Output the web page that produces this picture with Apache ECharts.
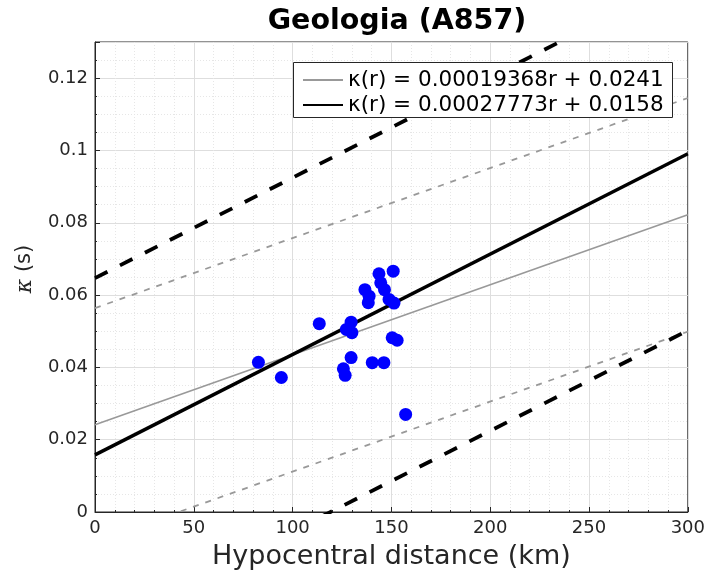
<!DOCTYPE html>
<html><head><meta charset="utf-8">
<script src="https://cdn.jsdelivr.net/npm/echarts@6/dist/echarts.min.js"></script>
<style>html,body{margin:0;padding:0;background:#fff}#c{width:708px;height:575px}</style>
</head><body><div id="c"></div>
<script>
// Observed data: hypocentral distance (km) and kappa (s)
const distKm = [82.7, 94.3, 113.5, 129.6, 127.2, 130.0, 129.6, 125.7, 126.6, 136.6, 138.7, 138.3, 143.7, 150.9, 144.6, 146.5, 148.8, 151.3, 150.4, 152.9, 140.3, 146.2, 157.2];
const kappaS = [0.0414, 0.0372, 0.0521, 0.0525, 0.0505, 0.0496, 0.0427, 0.0396, 0.0378, 0.0615, 0.0597, 0.0579, 0.0659, 0.0666, 0.0634, 0.0615, 0.0588, 0.0578, 0.0482, 0.0475, 0.0413, 0.0413, 0.0270];
// Fit parameters: [gray fit, black fit]
const fitNames = ['κ(r) = 0.00019368r + 0.0241', 'κ(r) = 0.00027773r + 0.0158'];
const fitSlopes = [0.00019368, 0.00027773];
const fitIntercepts = [0.0241, 0.0158];
const fitBands = [0.0323, 0.0489];
const xRange = [0, 300];
const yTicks = ['0', '0.02', '0.04', '0.06', '0.08', '0.1', '0.12'];

const fitColors = ['#999999', '#000000'];
const fitWidths = [1.6, 3.4];
const bandStyles = [{type: [6, 7], width: 1.8}, {type: [14, 14], width: 3.8}];

const pts = distKm.map((d, i) => [d, kappaS[i]]);
const lineAt = (k, off) => xRange.map(x => [x, fitIntercepts[k] + fitSlopes[k] * x + off]);

const series = [];
for (let k = 0; k < 2; k++) {
  ['+', '-'].forEach(s => {
    series.push({
      type: 'line', name: 'band' + k + s, data: lineAt(k, s === '+' ? fitBands[k] : -fitBands[k]),
      symbol: 'none', clip: true, silent: true,
      lineStyle: {color: fitColors[k], width: bandStyles[k].width, type: bandStyles[k].type},
      z: 2
    });
  });
}
for (let k = 0; k < 2; k++) {
  series.push({
    type: 'line', name: fitNames[k], data: lineAt(k, 0), symbol: 'none', clip: true,
    lineStyle: {color: fitColors[k], width: fitWidths[k]}, itemStyle: {color: fitColors[k]}, z: 3
  });
}
series.push({type: 'scatter', name: 'data', data: pts, symbolSize: 13, itemStyle: {color: '#0000ff', opacity: 1}, z: 4});

const minorLine = {show: true, lineStyle: {color: '#e6e6e6', width: 1, type: [1, 2]}};
const labelStyle = {color: '#262626', fontSize: 18, fontFamily: 'DejaVu Sans', margin: 7};
const axisCommon = {
  axisLine: {show: true, onZero: false, lineStyle: {color: '#262626', width: 1}},
  axisTick: {show: true, inside: true, length: 5, lineStyle: {color: '#262626'}},
  splitLine: {show: true, lineStyle: {color: '#dedede'}},
  minorSplitLine: minorLine
};
const legendCommon = {left: 297, itemWidth: 40, itemHeight: 14, itemGap: 4, z: 20, selectedMode: false,
  itemStyle: {opacity: 0, borderWidth: 0},
  textStyle: {fontSize: 21.5, fontFamily: 'DejaVu Sans', color: '#000'}};

const chart = echarts.init(document.getElementById('c'), null, {renderer: 'canvas'});
chart.setOption({
  animation: false,
  backgroundColor: '#ffffff',
  title: {text: 'Geologia (A857)', left: 392, top: 2, textAlign: 'center',
    textStyle: {fontFamily: 'DejaVu Sans', fontWeight: 'bold', fontSize: 28.5, color: '#000'}},
  grid: {left: 95, right: 18, top: 42, bottom: 62, show: true, borderColor: '#262626', borderWidth: 1, backgroundColor: 'transparent'},
  xAxis: Object.assign({}, axisCommon, {
    type: 'value', min: 0, max: 300, interval: 50,
    name: 'Hypocentral distance (km)', nameLocation: 'middle', nameGap: 31,
    nameTextStyle: {color: '#262626', fontFamily: 'DejaVu Sans', fontSize: 27},
    axisLabel: labelStyle,
    minorTick: {show: true, splitNumber: 5, length: 2, lineStyle: {color: '#262626'}}
  }),
  yAxis: Object.assign({}, axisCommon, {
    type: 'value', min: 0, max: 0.13, interval: 0.02,
    name: '{i|κ} (s)', nameLocation: 'middle', nameGap: 59, nameRotate: 90,
    nameTextStyle: {color: '#262626', fontFamily: 'DejaVu Sans', fontSize: 21, padding: [0, 0, 0, 16],
      rich: {i: {fontStyle: 'italic', fontFamily: 'DejaVu Serif', fontSize: 22, color: '#262626'}}},
    axisLabel: Object.assign({}, labelStyle, {showMaxLabel: false,
      formatter: v => { const i = Math.round(v / 0.02); return Math.abs(v - i * 0.02) < 1e-9 ? yTicks[i] : ''; }}),
    minorTick: {show: true, splitNumber: 4, length: 2, lineStyle: {color: '#262626'}}
  }),
  legend: [
    Object.assign({data: [{name: fitNames[0]}], top: 64}, legendCommon),
    Object.assign({data: [{name: fitNames[1]}], top: 89}, legendCommon)
  ],
  graphic: [{type: 'rect', left: 293, top: 62, shape: {width: 379, height: 55},
    style: {fill: '#fff', stroke: '#262626', lineWidth: 1}, z: 10}],
  series: series
});
</script></body></html>
